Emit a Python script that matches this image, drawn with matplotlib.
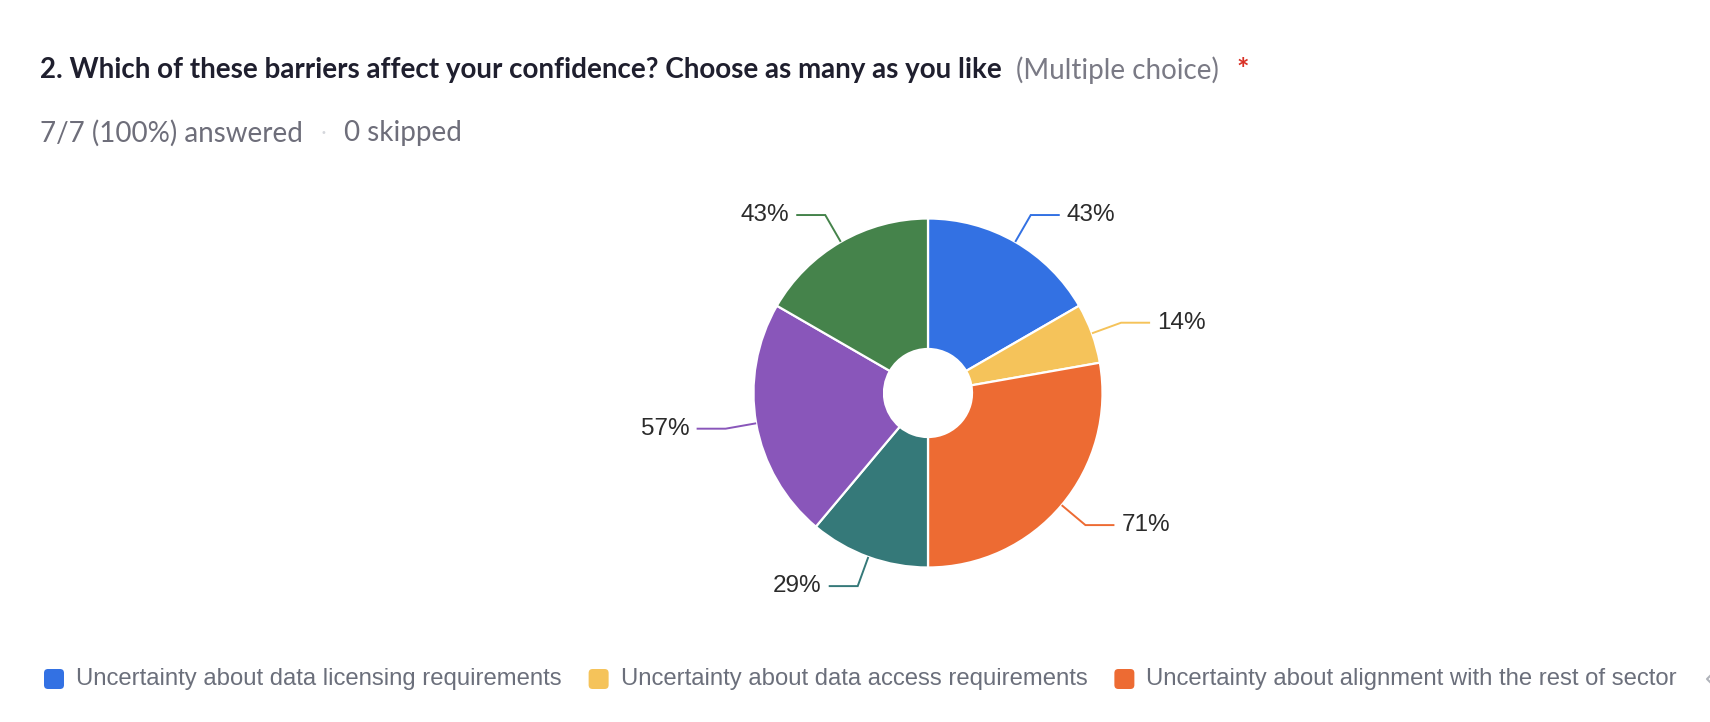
import numpy as np
import matplotlib
matplotlib.use("Agg")
import matplotlib.pyplot as plt
from matplotlib.patches import FancyBboxPatch

# ---------------- data ----------------
title = "2. Which of these barriers affect your confidence? Choose as many as you like"
title_note = "(Multiple choice)"
answered = "7/7 (100%) answered"
skipped = "0 skipped"
responses = 7
counts = [3, 1, 5, 2, 4, 3]                     # respondents choosing each option
pct_labels = ["43%", "14%", "71%", "29%", "57%", "43%"]
colors = ["#3371E3", "#F5C35A", "#ED6B33", "#357979", "#8956BA", "#45834B"]
legend_labels = [
    "Uncertainty about data licensing requirements",
    "Uncertainty about data access requirements",
    "Uncertainty about alignment with the rest of sector",
]

# ---------------- figure ----------------
W, H = 1710, 722
fig = plt.figure(figsize=(W / 100, H / 100), dpi=100)
ax = fig.add_axes([0, 0, 1, 1])
ax.set_xlim(0, W)
ax.set_ylim(0, H)
ax.set_aspect("equal")
ax.axis("off")

def Y(y):  # pixel-from-top -> data
    return H - y

renderer = fig.canvas.get_renderer()

def width_of(t):
    return t.get_window_extent(renderer=renderer).width

# header
t1 = ax.text(40, Y(70), title, family="Lato", weight="bold", fontsize=20,
             color="#1f1f2e", va="center", ha="left")
x = 40 + width_of(t1) + 14
t2 = ax.text(x, Y(70), title_note, family="Lato", fontsize=20,
             color="#7a7a85", va="center", ha="left")
x = x + width_of(t2) + 18
ax.text(x, Y(70), "*", family="Lato", weight="bold", fontsize=21,
        color="#d93025", va="center", ha="left")

s1 = ax.text(40, Y(133), answered, family="Lato", fontsize=20,
             color="#6e6e7a", va="center", ha="left")
x = 40 + width_of(s1) + 21
ax.text(x, Y(133), "•", family="DejaVu Sans", fontsize=7,
        color="#d5d7dc", va="center", ha="center")
ax.text(x + 20, Y(133), skipped, family="Lato", fontsize=20,
        color="#6e6e7a", va="center", ha="left")

# ---------------- donut ----------------
cx, cy = 928, Y(393)
R = 174.5
hole = 44 / R
wedges, _ = ax.pie(counts, colors=colors, startangle=90, counterclock=False,
                   center=(cx, cy), radius=R,
                   wedgeprops=dict(width=R * (1 - hole), edgecolor="white",
                                   linewidth=1.6))
ax.set_xlim(0, W)
ax.set_ylim(0, H)

for w, lab, col in zip(wedges, pct_labels, colors):
    ang = np.deg2rad((w.theta1 + w.theta2) / 2)
    dx, dy = np.cos(ang), np.sin(ang)
    p0 = (cx + R * dx, cy + R * dy)
    p1 = (cx + (R + 31) * dx, cy + (R + 31) * dy)
    side = 1 if dx >= 0 else -1
    p2 = (p1[0] + side * 29, p1[1])
    ax.plot([p0[0], p1[0], p2[0]], [p0[1], p1[1], p2[1]], color=col, lw=1.4,
            solid_capstyle="butt", solid_joinstyle="miter")
    ax.text(p2[0] + side * 7, p2[1], lab, family="Liberation Sans", fontsize=17.5,
            color="#2b2b2b", va="center", ha="left" if side > 0 else "right")

# ---------------- legend ----------------
ly = Y(679)
x = 44
sq = 20
for lab, col in zip(legend_labels, colors):
    ax.add_patch(FancyBboxPatch((x, ly - sq / 2), sq, sq,
                                boxstyle="round,pad=0,rounding_size=4",
                                facecolor=col, edgecolor="none"))
    t = ax.text(x + sq + 12, ly, lab, family="Liberation Sans", fontsize=17.2,
                color="#6b6f7b", va="center", ha="left")
    x = x + sq + 12 + width_of(t) + 27
# sliver of the pagination arrow, cut by the right edge
ax.plot([1711, 1707, 1711], [ly + 4, ly, ly - 4], color="#b0b3ba", lw=1.5,
        clip_on=False)

fig.savefig("out.png", dpi=100)
